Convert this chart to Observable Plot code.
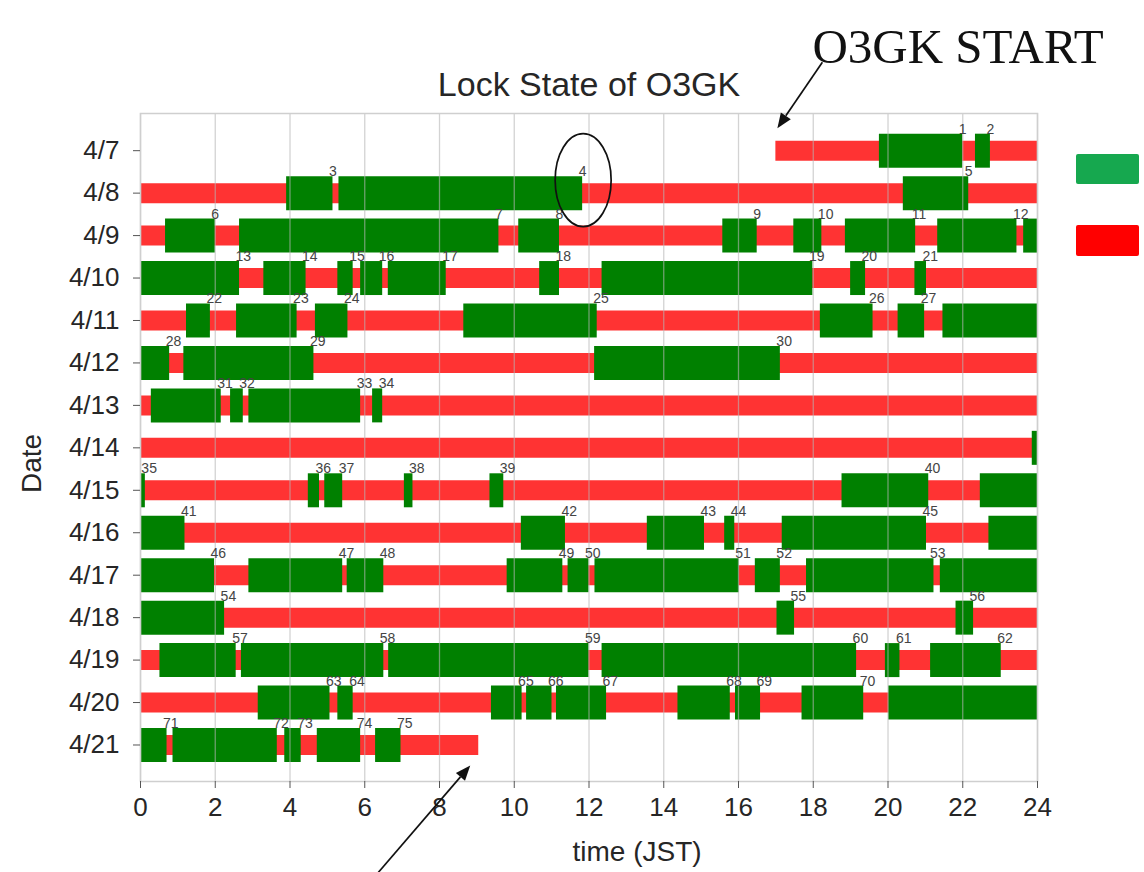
<!DOCTYPE html>
<html><head><meta charset="utf-8">
<script src="https://cdn.jsdelivr.net/npm/d3@7"></script>
<script src="https://cdn.jsdelivr.net/npm/@observablehq/plot@0.6"></script>
<style>body{margin:0;background:#fff}</style>
</head><body><div id="chart"></div>
<script>
// Dates (rows)
const dates = ["4/7","4/8","4/9","4/10","4/11","4/12","4/13","4/14","4/15","4/16","4/17","4/18","4/19","4/20","4/21"];
// Observation (red) span per date, hours JST
const obsStart = [17.0, 0,0,0,0,0,0,0,0,0,0,0,0,0, 0];
const obsEnd   = [24, 24,24,24,24,24,24,24,24,24,24,24,24,24, 9.05];
// Lock (green) segments
const lockRow   = [0,0, 1,1,1, 2,2,2,2,2,2,2,2, 3,3,3,3,3,3,3,3,3, 4,4,4,4,4,4,4, 5,5,5, 6,6,6,6, 7, 8,8,8,8,8,8,8, 9,9,9,9,9,9, 10,10,10,10,10,10,10,10,10, 11,11,11, 12,12,12,12,12,12, 13,13,13,13,13,13,13,13,13, 14,14,14,14,14];
const lockStart = [19.77,22.34, 3.91,5.31,20.41, 0.67,2.65,10.12,15.58,17.48,18.86,21.33,23.63, 0,3.30,5.28,5.89,6.63,10.68,12.35,19.0,20.72, 1.23,2.57,4.68,8.65,18.19,20.27,21.47, 0,1.16,12.15, 0.29,2.41,2.90,6.21, 23.86, 0,4.49,4.93,7.06,9.35,18.77,22.47, 0,10.19,13.56,15.63,17.17,22.70, 0,2.90,5.53,9.81,11.44,12.16,16.45,17.82,21.40, 0,17.03,21.82, 0.52,2.70,6.64,12.35,19.93,21.14, 3.15,5.28,9.39,10.33,11.13,14.38,15.92,17.70,20.02, 0,0.87,3.86,4.73,6.29];
const lockEnd   = [22.0,22.74, 5.15,11.83,22.16, 2.0,9.59,11.21,16.5,18.23,20.74,23.45,24, 2.65,4.43,5.69,6.48,8.18,11.21,17.99,19.4,21.03, 1.87,4.19,5.55,12.22,19.6,20.98,24, 0.78,4.64,17.12, 2.16,2.75,5.89,6.48, 24, 0.13,4.79,5.41,7.29,9.72,21.09,24, 1.19,11.37,15.09,15.9,21.03,24, 1.98,5.41,6.51,11.3,12.0,16.02,17.12,21.23,24, 2.25,17.5,22.29, 2.56,6.51,12.0,19.16,20.32,23.03, 5.07,5.69,10.21,11.01,12.47,15.78,16.59,19.35,24, 0.71,3.66,4.3,5.89,6.97];
const lockLabel = ["1","2", "3","4","5", "6","7","8","9","10","11","12","", "13","14","15","16","17","18","19","20","21", "22","23","24","25","26","27","", "28","29","30", "31","32","33","34", "", "35","36","37","38","39","40","", "41","42","43","44","45","", "46","47","48","49","50","51","52","53","", "54","55","56", "57","58","59","60","61","62", "63","64","65","66","67","68","69","70","", "71","72","73","74","75"];
const hourTicks = [0,2,4,6,8,10,12,14,16,18,20,22,24];

const obs = dates.map((d, i) => ({row: i, x1: obsStart[i], x2: obsEnd[i]}));
const locks = lockStart.map((s, i) => ({row: lockRow[i], x1: s, x2: lockEnd[i], label: lockLabel[i]}));

const chart = Plot.plot({
  width: 1144, height: 872,
  marginLeft: 140, marginRight: 107, marginTop: 113, marginBottom: 91,
  style: {fontFamily: "'Liberation Sans', Arial, sans-serif", color: "#262626", background: "#fff"},
  x: {domain: [0, 24]},
  y: {domain: [-0.876, 14.86], reverse: true},
  marks: [
    Plot.ruleY(obs, {y: "row", x1: "x1", x2: "x2", stroke: "#ff3333", strokeWidth: 20}),
    Plot.ruleY(locks, {y: "row", x1: "x1", x2: "x2", stroke: "#008000", strokeWidth: 34}),
    Plot.gridX({ticks: hourTicks, stroke: "#b5b5b5", strokeOpacity: 0.6, strokeWidth: 1.3}),
    Plot.frame({stroke: "#cfcfcf", strokeWidth: 1.5}),
    Plot.text(locks.filter(d => d.label), {x: "x2", y: "row", text: "label", textAnchor: "start", lineAnchor: "bottom", dx: -4, dy: -17, fontSize: 14, fill: "#444"}),
    Plot.axisX({ticks: hourTicks, tickSize: 7, tickPadding: 9, fontSize: 26, label: null, stroke: "#555"}),
    Plot.axisY({ticks: d3.range(dates.length), tickFormat: i => dates[i], tickSize: 7, tickPadding: 14, fontSize: 26, label: null, stroke: "#555"}),
    Plot.text(["time (JST)"], {frameAnchor: "bottom", lineAnchor: "middle", textAnchor: "middle", dx: 48, dy: 71, fontSize: 28}),
    Plot.text(["Date"], {frameAnchor: "left", lineAnchor: "middle", textAnchor: "middle", rotate: -90, dx: -108, dy: 16, fontSize: 28}),
    Plot.text(["Lock State of O3GK"], {frameAnchor: "top", lineAnchor: "middle", textAnchor: "middle", dy: -28, fontSize: 34}),
    Plot.text(["O3GK START"], {frameAnchor: "top", lineAnchor: "middle", textAnchor: "middle", dx: 369, dy: -66, fontSize: 49, fontFamily: "'Liberation Serif', 'Times New Roman', serif", fill: "#111"})
  ]
});
document.getElementById("chart").appendChild(chart);

// annotations
const svg = d3.select(chart);
const X = v => chart.scale("x").apply(v), Y = v => chart.scale("y").apply(v);
function arrow(x1, y1, x2, y2) {
  const a = Math.atan2(y2 - y1, x2 - x1), L = 15, W = 6;
  const bx = x2 - L * Math.cos(a), by = y2 - L * Math.sin(a);
  svg.append("line").attr("x1", x1).attr("y1", y1).attr("x2", bx).attr("y2", by)
    .attr("stroke", "#111").attr("stroke-width", 1.7);
  svg.append("path")
    .attr("d", `M${x2},${y2}L${bx + W * Math.sin(a)},${by - W * Math.cos(a)}L${bx - W * Math.sin(a)},${by + W * Math.cos(a)}Z`)
    .attr("fill", "#111");
}
const t1x = X(obsStart[0]) + 2, t1y = Y(0) - 22;
arrow(t1x + 45, t1y - 66, t1x, t1y);
const t2x = X(obsEnd[14]) - 8, t2y = Y(14) + 21;
arrow(t2x - 92, t2y + 107, t2x, t2y);
svg.append("ellipse").attr("cx", X(lockEnd[3]) + 1).attr("cy", Y(1) - 12.5)
  .attr("rx", 28).attr("ry", 46.5).attr("fill", "none").attr("stroke", "#111").attr("stroke-width", 1.7);
// legend swatches (right side)
svg.append("rect").attr("x", 1076).attr("y", 154).attr("width", 63).attr("height", 30).attr("rx", 2).attr("fill", "#16a84f");
svg.append("rect").attr("x", 1076).attr("y", 225).attr("width", 63).attr("height", 31).attr("rx", 2).attr("fill", "#ff0000");
</script></body></html>
